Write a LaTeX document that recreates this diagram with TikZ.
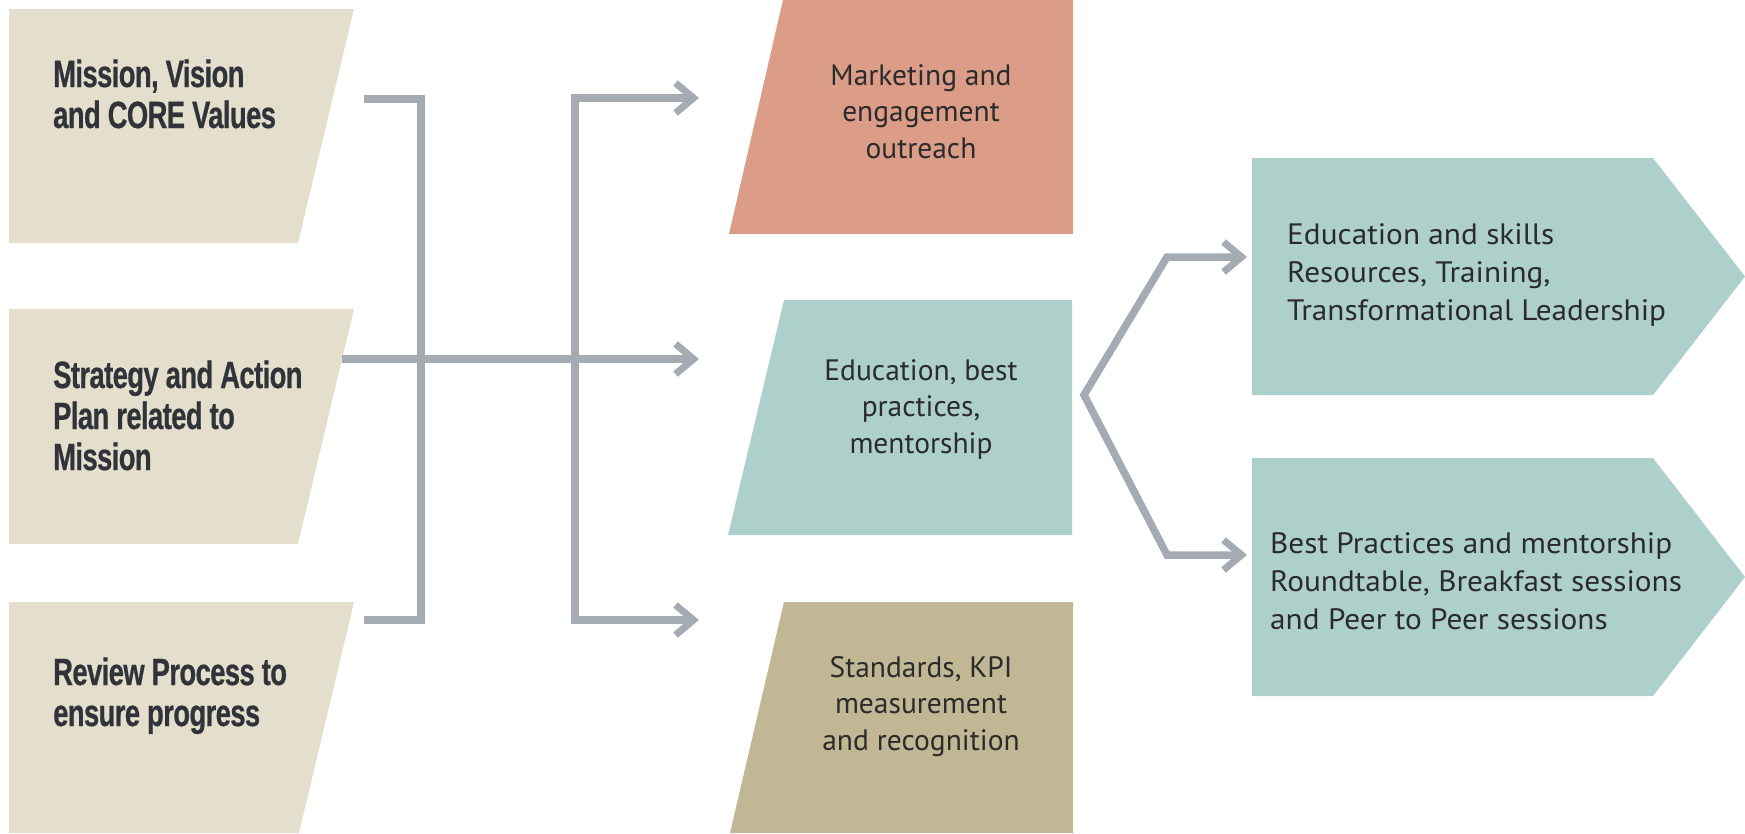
\documentclass[tikz,border=0pt]{standalone}
\usepackage{fontspec}
\setmainfont{PT Sans}
\newfontfamily\condfont{Liberation Sans Bold}[FakeStretch=0.72, FakeBold=0.6, LetterSpace=-1.5]
\newfontfamily\widefont{PT Sans}[FakeStretch=1.06]
\usetikzlibrary{arrows.meta}

\definecolor{beige}{HTML}{E4DFCC}
\definecolor{salmon}{HTML}{DB9D88}
\definecolor{teal}{HTML}{ADD1CA}
\definecolor{tan}{HTML}{C2B794}
\definecolor{linkgray}{HTML}{A5ABB3}
\definecolor{ink}{HTML}{2B2B2B}
\definecolor{darkink}{HTML}{30343A}

% multi-line nodes: the base anchor sits on the last line's baseline
\tikzset{
  link/.style={draw=linkgray, line width=7.5pt, line join=miter, line cap=butt},
  barb/.tip={Straight Barb[length=18pt, width=30pt, line width=7pt]},
  lefttext/.style={anchor=base west, inner sep=0pt, align=left, text=darkink,
    font=\condfont\fontsize{38}{41}\selectfont},
  midtext/.style={anchor=base, inner sep=0pt, align=center, text=ink,
    font=\fontsize{29.5}{36.7}\selectfont},
  righttext/.style={anchor=base west, inner sep=0pt, align=left, text=ink,
    font=\widefont\fontsize{29.5}{38}\selectfont},
}

\begin{document}
\begin{tikzpicture}[x=1pt, y=-1pt]
\useasboundingbox (0,0) rectangle (1745,833);

% left column: slanted panels
\fill[beige] (9,9) -- (354,9) -- (298,243) -- (9,243) -- cycle;
\fill[beige] (9,309) -- (354,309) -- (298,544) -- (9,544) -- cycle;
\fill[beige] (9,602) -- (354,602) -- (299,833) -- (9,833) -- cycle;

% middle column
\fill[salmon] (783,0) -- (1073,0) -- (1073,234) -- (729,234) -- cycle;
\fill[teal] (784,300) -- (1072,300) -- (1072,535) -- (728,535) -- cycle;
\fill[tan] (784,602) -- (1073,602) -- (1073,833) -- (730,833) -- cycle;

% right column: arrow-shaped panels
\fill[teal] (1252,158) -- (1653,158) -- (1745,276.5) -- (1653,395) -- (1252,395) -- cycle;
\fill[teal] (1252,458) -- (1653,458) -- (1745,577) -- (1653,696) -- (1252,696) -- cycle;

% texts
\node[lefttext] (mission) at (53,128) {Mission, Vision\\and CORE Values};
\node[lefttext] (strategy) at (53,470) {Strategy and Action\\Plan related to\\Mission};
\node[lefttext] (review) at (53,726) {Review Process to\\ensure progress};

\node[midtext] (marketing) at (921,158.5) {Marketing and\\engagement\\outreach};
\node[midtext] (education) at (921,453.5) {Education, best\\practices,\\mentorship};
\node[midtext] (standards) at (921,750.5) {Standards, KPI\\measurement\\and recognition};

\node[righttext] (skills) at (1287,320) {Education and skills\\Resources, Training,\\Transformational Leadership};
\node[righttext] (peer) at (1270,629) {Best Practices and mentorship\\Roundtable, Breakfast sessions\\and Peer to Peer sessions};

% connector anchor points
\coordinate (bTop) at (364,99);
\coordinate (bTopC) at (421,99);
\coordinate (bBotC) at (421,620);
\coordinate (bBot) at (364,620);
\coordinate (midStart) at (342,359);
\coordinate (midEnd) at (699,359);
\coordinate (fTopEnd) at (699,98);
\coordinate (fTopC) at (575,98);
\coordinate (fBotC) at (575,620);
\coordinate (fBotEnd) at (699,620);
\coordinate (sTopEnd) at (1247,257);
\coordinate (sTopC) at (1167,257);
\coordinate (sApex) at (1084,395);
\coordinate (sBotC) at (1167,555);
\coordinate (sBotEnd) at (1247,555);

% connectors
\draw[link] (bTop) -- (bTopC) -- (bBotC) -- (bBot);
\draw[link, -barb] (midStart) -- (midEnd);
\draw[link, barb-barb] (fTopEnd) -- (fTopC) -- (fBotC) -- (fBotEnd);
\draw[link, barb-barb] (sTopEnd) -- (sTopC) -- (sApex) -- (sBotC) -- (sBotEnd);
\end{tikzpicture}
\end{document}
